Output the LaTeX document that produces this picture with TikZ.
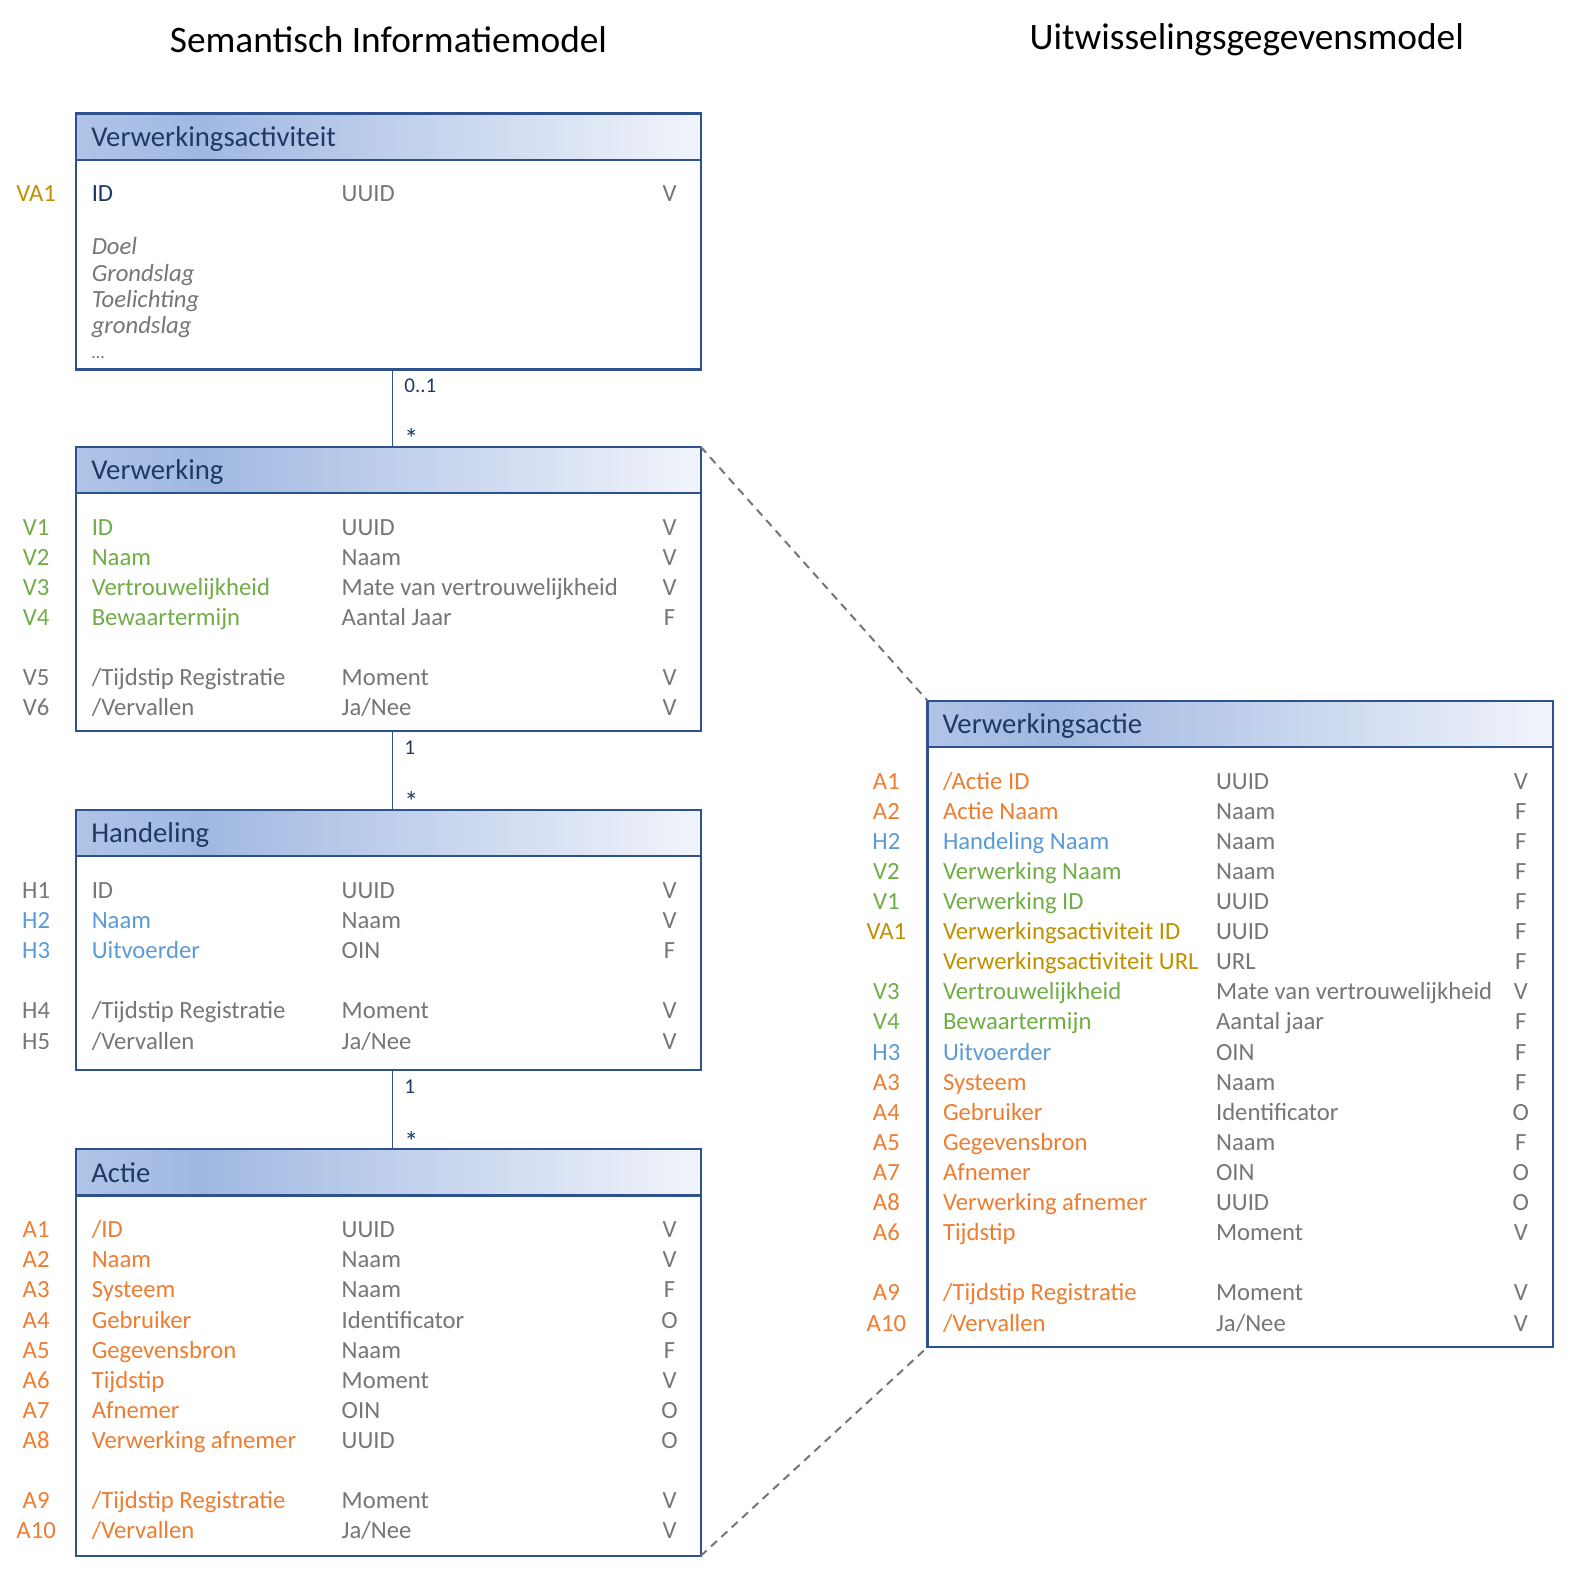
\documentclass[tikz,border=0pt]{standalone}
\usepackage{fontspec}
\setmainfont{Carlito}
\usepackage{tikz}
\usetikzlibrary{positioning}
\definecolor{boxline}{RGB}{47,82,143}
\definecolor{navy}{RGB}{31,56,100}
\definecolor{cgray}{RGB}{118,118,118}
\definecolor{cgreen}{RGB}{112,173,71}
\definecolor{corange}{RGB}{237,125,49}
\definecolor{cblue}{RGB}{91,155,213}
\definecolor{cgold}{RGB}{191,144,0}
\definecolor{hdA}{RGB}{176,196,231}
\definecolor{hdB}{RGB}{160,184,225}
\definecolor{hdC}{RGB}{241,244,251}
\pgfdeclarehorizontalshading{hdrshade}{100bp}{color(0bp)=(hdA); color(25bp)=(hdA);
  color(35bp)=(hdB); color(75bp)=(hdC); color(100bp)=(hdC)}
\newcommand\rowfont{\fontsize{12.3}{14.5}\selectfont}
\tikzset{
  umlhead/.style={rectangle, draw=boxline, line width=1.1pt, shading=hdrshade,
    anchor=north west, outer sep=0pt, minimum height=23pt, inner xsep=7.5pt, inner ysep=0pt,
    text width=296pt, text height=9.6pt, text depth=0pt, align=left, text=navy,
    font=\fontsize{14.3}{17}\selectfont},
  umlbody/.style={rectangle, draw=boxline, line width=1.1pt, fill=white,
    anchor=north west, outer sep=0pt, minimum width=311pt, inner sep=0pt},
  lbl/.style={anchor=base, inner sep=0pt, font=\rowfont},
  attr/.style={anchor=base west, inner sep=0pt, font=\rowfont},
  typ/.style={attr, text=cgray},
  flg/.style={lbl, text=cgray},
  hand/.style={attr, text=cgray, font=\rowfont\itshape},
  mult/.style={anchor=base west, inner sep=0pt, xshift=5.5pt, text=navy,
    font=\fontsize{10.5}{12}\selectfont},
  many/.style={mult, yshift=-2pt, font=\fontsize{14}{16}\selectfont},
  assoc/.style={draw=boxline, line width=0.8pt},
  trace/.style={draw=cgray, line width=1pt, dash pattern=on 4pt off 3pt},
  title/.style={font=\fontsize{18.6}{22}\selectfont},
}
\begin{document}
\begin{tikzpicture}[x=0.5pt, y=-0.5pt]
  \useasboundingbox (0,0) rectangle (1567,1568);

  \node[title] (tsim) at (387,40) {Semantisch Informatiemodel};
  \node[title] (tugm) at (1242,40) {Uitwisselingsgegevensmodel};

  % Semantisch informatiemodel
  \node[umlhead] (vahead) at (76,113) {Verwerkingsactiviteit};
  \node[umlbody, minimum height=104.5pt] (vabody) at (vahead.south west) {};
  \node[umlhead] (vhead) at (76,445) {Verwerking};
  \node[umlbody, minimum height=118.5pt] (vbody) at (vhead.south west) {};
  \node[umlhead] (hhead) at (76,807) {Handeling};
  \node[umlbody, minimum height=106.5pt] (hbody) at (hhead.south west) {};
  \node[umlhead] (ahead) at (76,1145) {Actie};
  \node[umlbody, minimum height=179.5pt] (abody) at (ahead.south west) {};

  % Uitwisselingsgegevensmodel
  \node[umlhead, text width=296.5pt] (vachead) at (924,698) {Verwerkingsactie};
  \node[umlbody, minimum width=311.5pt, minimum height=299pt] (vacbody) at (vachead.south west) {};

  \draw[assoc] ([xshift=2pt]vabody.south) -- node[mult, pos=0.3] (m1) {0..1}
    node[many, pos=0.97] (m2) {*} ([xshift=2pt]vhead.north);
  \draw[assoc] ([xshift=2pt]vbody.south) -- node[mult, pos=0.3] (m3) {1}
    node[many, pos=0.97] (m4) {*} ([xshift=2pt]hhead.north);
  \draw[assoc] ([xshift=2pt]hbody.south) -- node[mult, pos=0.3] (m5) {1}
    node[many, pos=0.97] (m6) {*} ([xshift=2pt]ahead.north);

  \draw[trace] (vhead.north east) -- (vachead.north west);
  \draw[trace] (abody.south east) -- (vacbody.south west);

  % attributen links
  \foreach \y/\lab/\lc/\nm/\nc/\tp/\fl in {
      193/VA1/cgold/ID/navy/UUID/V,
      525/V1/cgreen/ID/cgreen/UUID/V,
      555/V2/cgreen/Naam/cgreen/Naam/V,
      585/V3/cgreen/Vertrouwelijkheid/cgreen/Mate van vertrouwelijkheid/V,
      615/V4/cgreen/Bewaartermijn/cgreen/Aantal Jaar/F,
      675/V5/cgray/{/Tijdstip Registratie}/cgray/Moment/V,
      705/V6/cgray/{/Vervallen}/cgray/{Ja/Nee}/V,
      887/H1/cgray/ID/cgray/UUID/V,
      917/H2/cblue/Naam/cblue/Naam/V,
      947/H3/cblue/Uitvoerder/cblue/OIN/F,
      1007/H4/cgray/{/Tijdstip Registratie}/cgray/Moment/V,
      1037/H5/cgray/{/Vervallen}/cgray/{Ja/Nee}/V,
      1225/A1/corange/{/ID}/corange/UUID/V,
      1255/A2/corange/Naam/corange/Naam/V,
      1285/A3/corange/Systeem/corange/Naam/F,
      1315/A4/corange/Gebruiker/corange/Identificator/O,
      1345/A5/corange/Gegevensbron/corange/Naam/F,
      1375/A6/corange/Tijdstip/corange/Moment/V,
      1405/A7/corange/Afnemer/corange/OIN/O,
      1435/A8/corange/Verwerking afnemer/corange/UUID/O,
      1495/A9/corange/{/Tijdstip Registratie}/corange/Moment/V,
      1525/A10/corange/{/Vervallen}/corange/{Ja/Nee}/V} {
    \node[lbl, text=\lc] (lbl\y) at (36,{\y+8}) {\lab};
    \node[attr, text=\nc] (nm\y) at (91,{\y+8}) {\nm};
    \node[typ] (tp\y) at (340,{\y+8}) {\tp};
    \node[flg] (fl\y) at (667,{\y+8}) {\fl};
  }
  \foreach \y/\nm in {254/Doel, 280/Grondslag, 306/Toelichting, 332/grondslag}
    \node[hand] (hw\y) at (91,\y) {\nm};
  \node[attr, text=cgray, font=\fontsize{9}{10}\selectfont] (hwdots) at (91,357) {\dots};

  % attributen rechts
  \foreach \y/\lab/\lc/\nm/\tp/\fl in {
      778/A1/corange/{/Actie ID}/UUID/V,
      808/A2/corange/Actie Naam/Naam/F,
      838/H2/cblue/Handeling Naam/Naam/F,
      868/V2/cgreen/Verwerking Naam/Naam/F,
      898/V1/cgreen/Verwerking ID/UUID/F,
      928/VA1/cgold/Verwerkingsactiviteit ID/UUID/F,
      958/{}/cgold/Verwerkingsactiviteit URL/URL/F,
      988/V3/cgreen/Vertrouwelijkheid/Mate van vertrouwelijkheid/V,
      1018/V4/cgreen/Bewaartermijn/Aantal jaar/F,
      1048/H3/cblue/Uitvoerder/OIN/F,
      1078/A3/corange/Systeem/Naam/F,
      1108/A4/corange/Gebruiker/Identificator/O,
      1138/A5/corange/Gegevensbron/Naam/F,
      1168/A7/corange/Afnemer/OIN/O,
      1198/A8/corange/Verwerking afnemer/UUID/O,
      1228/A6/corange/Tijdstip/Moment/V,
      1288/A9/corange/{/Tijdstip Registratie}/Moment/V,
      1318/A10/corange/{/Vervallen}/{Ja/Nee}/V} {
    \node[lbl, text=\lc] (lbl\y) at (883,{\y+8}) {\lab};
    \node[attr, text=\lc] (nm\y) at (939,{\y+8}) {\nm};
    \node[typ] (tp\y) at (1211,{\y+8}) {\tp};
    \node[flg] (fl\y) at (1515,{\y+8}) {\fl};
  }
\end{tikzpicture}
\end{document}
